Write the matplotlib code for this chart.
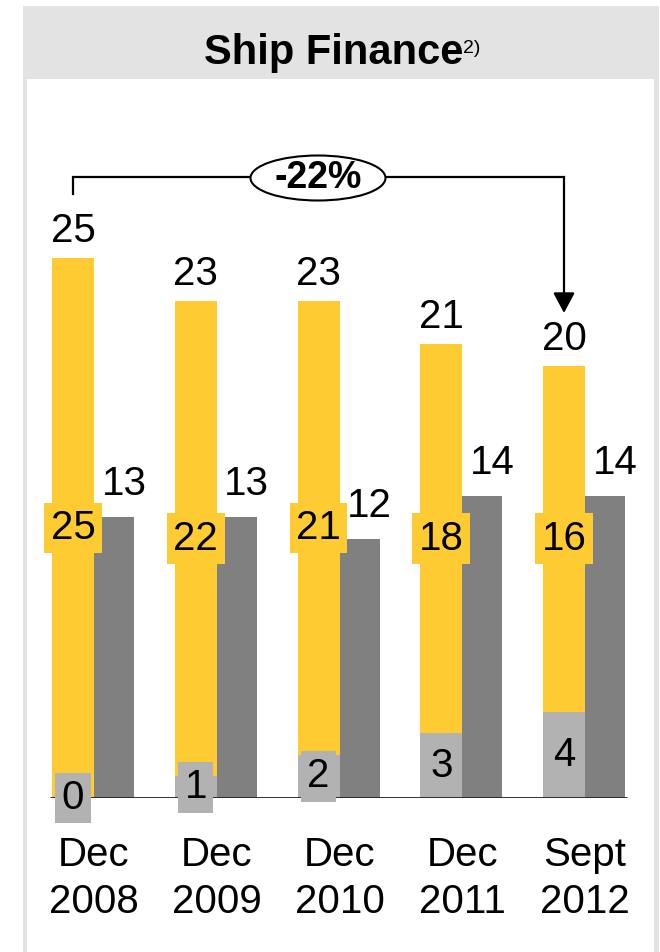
import matplotlib
matplotlib.use("Agg")
import matplotlib.pyplot as plt
from matplotlib.patches import Rectangle, Ellipse

plt.rcParams['font.family'] = ['Liberation Sans', 'DejaVu Sans']

# ---- data ----
categories = ["Dec\n2008", "Dec\n2009", "Dec\n2010", "Dec\n2011", "Sept\n2012"]
lower_part = [0, 1, 2, 3, 4]          # light grey base segment
upper_part = [25, 22, 21, 18, 16]     # yellow segment
totals = [25, 23, 23, 21, 20]         # stacked totals
side_values = [13, 13, 12, 14, 14]    # dark grey bars
change_label = "-22%"
title = "Ship Finance"
title_note = "2)"

# ---- style ----
YELLOW = "#FFCB32"
DARK = "#808080"
LIGHT = "#B2B2B2"
FRAME = "#E3E3E3"
FS = 29

W, H = 660, 952
fig = plt.figure(figsize=(W / 100, H / 100), dpi=100)

# background axes in pixel units (y down) for the panel frame and header
bg = fig.add_axes([0, 0, 1, 1])
bg.set_xlim(0, W)
bg.set_ylim(H, 0)
bg.axis("off")
bg.add_patch(Rectangle((23, 6), 636, H, facecolor=FRAME, edgecolor="none"))
bg.add_patch(Rectangle((27, 79), 627, H, facecolor="white", edgecolor="none"))
bg.text(463, 64, title, ha="right", va="baseline", fontsize=30, fontweight="bold")
bg.text(463, 53, title_note, ha="left", va="baseline", fontsize=14)

# chart axes: baseline at 798 px from top, 30 units span 648 px
base_px = 798
ymax = 30
span_px = 648
px_per_unit = span_px / ymax
step_px = 122.75
x0_px = 94
ax = fig.add_axes([0, (H - base_px) / H, 1, span_px / H])
ax.set_xlim(-x0_px / step_px, (W - x0_px) / step_px)
ax.set_ylim(0, ymax)
ax.axis("off")
ax.patch.set_alpha(0)

def dy(px):
    return px / px_per_unit

def dx(px):
    return px / step_px

wy = dx(42)
wd = dx(40)
xs = list(range(len(categories)))
xy = [x - wy / 2 for x in xs]
xd = [x + wd / 2 for x in xs]

ax.bar(xy, lower_part, width=wy, color=LIGHT, zorder=2)
ax.bar(xy, upper_part, width=wy, bottom=lower_part, color=YELLOW, zorder=2)
ax.bar(xd, side_values, width=wd, color=DARK, zorder=2)

# baseline
ax.plot([dx(50 - x0_px), dx(627 - x0_px)], [0, 0], color="#222222", lw=2,
        zorder=3, solid_capstyle="butt")

for i in xs:
    # total above the stacked bar
    ax.text(xy[i], totals[i] + dy(27), str(totals[i]), ha="center", va="center",
            fontsize=FS, zorder=5)
    # dark bar value
    ax.text(xd[i] + dx(10), side_values[i] + dy(33), str(side_values[i]),
            ha="center", va="center", fontsize=FS, zorder=5)
    # yellow segment value in a yellow box
    ax.text(xy[i], lower_part[i] + upper_part[i] / 2, str(upper_part[i]),
            ha="center", va="center", fontsize=FS, zorder=6,
            bbox=dict(boxstyle="square,pad=0.16", facecolor=YELLOW, edgecolor="none"))
    # light grey segment value in a grey box
    ax.text(xy[i], lower_part[i] / 2, str(lower_part[i]),
            ha="center", va="center", fontsize=FS, zorder=6,
            bbox=dict(boxstyle="square,pad=0.16", facecolor=LIGHT, edgecolor="none"))
    # category label (baseline of the last line)
    ax.text(i, -dy(913 - base_px), categories[i], ha="center", va="baseline",
            fontsize=FS, linespacing=1.3)

# change bracket from first to last stacked bar
yb = dy(base_px - 177)
ax.plot([xy[0], xy[0], xy[-1]], [dy(base_px - 194), yb, yb], color="black",
        lw=1.6, zorder=4, solid_joinstyle="miter")
ax.annotate("", xy=(xy[-1], dy(base_px - 313)), xytext=(xy[-1], yb),
            arrowprops=dict(arrowstyle="-|>,head_length=0.62,head_width=0.33",
                            mutation_scale=20, lw=1.6, color="black",
                            shrinkA=0, shrinkB=0),
            zorder=4)
ex = dx(318 - x0_px)
ax.add_patch(Ellipse((ex, dy(base_px - 178)), dx(135), dy(45), facecolor="white",
                     edgecolor="black", lw=1.5, zorder=5))
ax.text(ex, dy(base_px - 178), change_label, ha="center", va="center",
        fontsize=27, fontweight="bold", zorder=6)

fig.savefig("out.png", dpi=100)
